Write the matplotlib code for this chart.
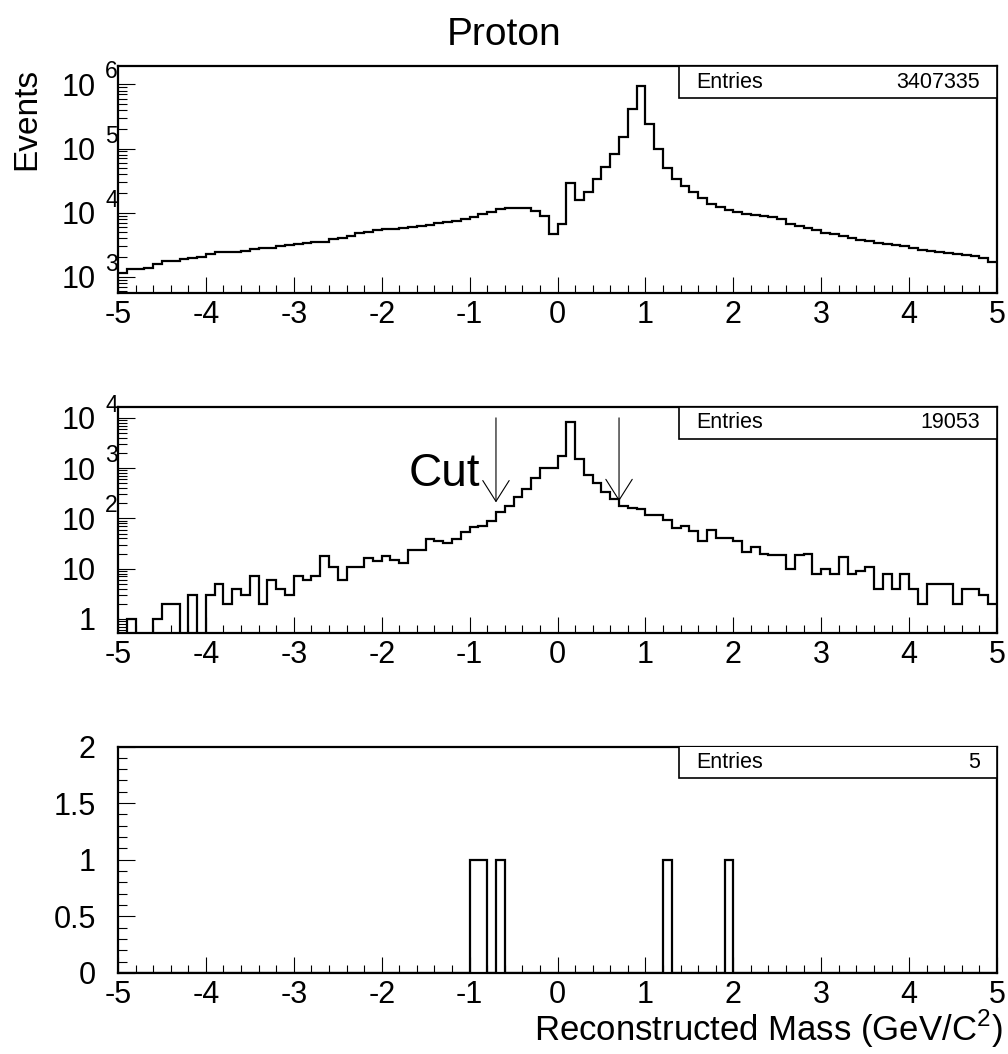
import numpy as np
import matplotlib
matplotlib.use("Agg")
import matplotlib.pyplot as plt
from matplotlib.patches import Rectangle
from matplotlib.ticker import MultipleLocator, LogLocator, FuncFormatter, NullFormatter

plt.rcParams['font.family'] = ['Liberation Sans', 'DejaVu Sans']
plt.rcParams['mathtext.fontset'] = 'custom'
plt.rcParams['mathtext.rm'] = 'Liberation Sans'
plt.rcParams['axes.unicode_minus'] = False

# 100 bins from -5 to 5
edges = np.linspace(-5, 5, 101)

# all proton candidates
all_counts = [1127, 1301, 1301, 1349, 1577, 1735, 1735, 1864, 1978, 2050,
              2258, 2397, 2397, 2456, 2548, 2670, 2768, 2834, 2971, 3080,
              3194, 3310, 3433, 3516, 3823, 4057, 4307, 4853, 5033, 5282,
              5543, 5609, 5811, 6027, 6170, 6473, 6791, 7040, 7478, 8036,
              8635, 9383, 10325, 11360, 11780, 11920, 11630, 10720, 8960, 4690,
              6710, 29240, 15890, 20690, 32980, 51350, 82930, 149200, 418000, 955000,
              243800, 99360, 48980, 32980, 25950, 20930, 17080, 13760, 12210, 10840,
              10090, 9500, 9200, 8960, 8440, 8040, 6710, 6250, 5680, 5350,
              4850, 4630, 4310, 4010, 3730, 3560, 3390, 3270, 3120, 2970,
              2770, 2640, 2550, 2460, 2340, 2260, 2180, 2080, 1980, 1690]

# after selection
sel_counts = [0, 1, 0, 0, 1, 2, 2, 0, 3, 0,
              3, 5, 2, 4, 3, 7, 2, 6, 4, 3,
              7, 6, 7, 18, 11, 6, 11, 11, 16, 14,
              18, 15, 13, 24, 24, 39, 36, 32, 39, 53,
              68, 71, 90, 132, 174, 261, 392, 640, 990, 990,
              1760, 8330, 1490, 715, 503, 338, 238, 176, 163, 156,
              116, 116, 94, 65, 70, 56, 36, 60, 40, 40,
              36, 21, 27, 20, 19, 19, 10, 19, 20, 8,
              10, 8, 17, 8, 9, 11, 4, 8, 4, 8,
              4, 2, 5, 5, 5, 2, 4, 4, 3, 2]

# final sample (5 entries)
final_masses = [-0.95, -0.85, -0.65, 1.25, 1.95]

entries = ['3407335', '19053', '5']
cut_lo, cut_hi = -0.7, 0.7

fig = plt.figure(figsize=(10.08, 10.54), dpi=100)
L, W, H = 118/1008, 879/1008, 226.5/1054
ax1 = fig.add_axes([L, 1 - 292.7/1054, W, H])
ax2 = fig.add_axes([L, 1 - 633.3/1054, W, H])
ax3 = fig.add_axes([L, 1 - 973.0/1054, W, H])

ax1.set_yscale('log', nonpositive='clip')
ax2.set_yscale('log', nonpositive='clip')
ax1.stairs(all_counts, edges, baseline=None, color='k', lw=1.6)
ax2.stairs(sel_counts, edges, baseline=None, color='k', lw=1.6)
ax3.hist(final_masses, bins=edges, histtype='step', color='k', lw=1.6)

ax1.set_ylim(10**2.75, 10**6.285)
ax2.set_ylim(10**-0.285, 10**4.22)
ax3.set_ylim(0, 2)


def decade_label(v, pos):
    return '1' if abs(v - 1) < 1e-9 else '10'


for ax, n in zip([ax1, ax2, ax3], entries):
    ax.set_xlim(-5, 5)
    ax.xaxis.set_major_locator(MultipleLocator(1))
    ax.xaxis.set_minor_locator(MultipleLocator(0.2))
    for s in ax.spines.values():
        s.set_linewidth(1.6)
    ax.tick_params(axis='both', which='both', direction='in', top=False, right=False,
                   labelsize=22, width=0.8)
    ax.tick_params(axis='x', which='major', length=11.5, pad=5)
    ax.tick_params(axis='x', which='minor', length=6)
    ax.tick_params(axis='y', which='major', length=12, pad=16)
    ax.tick_params(axis='y', which='minor', length=6.5)
    # stats box
    ax.add_patch(Rectangle((0.638, 0.859), 0.362, 0.141, transform=ax.transAxes,
                           facecolor='white', edgecolor='k', lw=1.2, zorder=5))
    ax.text(0.658, 0.93, 'Entries', transform=ax.transAxes, fontsize=15.5,
            ha='left', va='center', zorder=6)
    ax.text(0.981, 0.93, n, transform=ax.transAxes, fontsize=15.5,
            ha='right', va='center', zorder=6)

for ax in [ax1, ax2]:
    ax.yaxis.set_major_locator(LogLocator(base=10, numticks=20))
    ax.yaxis.set_minor_locator(LogLocator(base=10, subs=np.arange(2, 10), numticks=20))
    ax.yaxis.set_major_formatter(FuncFormatter(decade_label))
    ax.yaxis.set_minor_formatter(NullFormatter())
    lo, hi = ax.get_ylim()
    for e in range(int(np.ceil(np.log10(lo))), int(np.floor(np.log10(hi))) + 1):
        if e >= 2:
            ax.annotate(str(e), xy=(0, 10**e), xycoords=('axes fraction', 'data'),
                        xytext=(-13, 6), textcoords='offset pixels',
                        fontsize=16.5, ha='left', va='baseline')

ax3.yaxis.set_major_locator(MultipleLocator(0.5))
ax3.yaxis.set_minor_locator(MultipleLocator(0.1))
ax3.yaxis.set_major_formatter(FuncFormatter(lambda v, p: '%g' % v))

# cut arrows
for xc, ytip in [(cut_lo, 208), (cut_hi, 220)]:
    ax2.annotate('', xy=(xc, ytip), xytext=(xc, 1e4),
                 arrowprops=dict(arrowstyle='->,head_length=15,head_width=9.5',
                                 mutation_scale=1, lw=0.8, color='k',
                                 shrinkA=0, shrinkB=0))
ax2.text(-0.88, 445, 'Cut', fontsize=33, ha='right', va='baseline')

fig.text(0.5, 1 - 35/1054, 'Proton', ha='center', va='center', fontsize=28)
fig.text(26.5/1008, 1 - 68/1054, 'Events', rotation=90, ha='center', va='top', fontsize=24)
fig.text(1003/1008, 1 - 1050/1054, r'Reconstructed Mass (GeV/C$^{2}$)',
         ha='right', va='bottom', fontsize=25)

fig.savefig('out.png', dpi=100)
